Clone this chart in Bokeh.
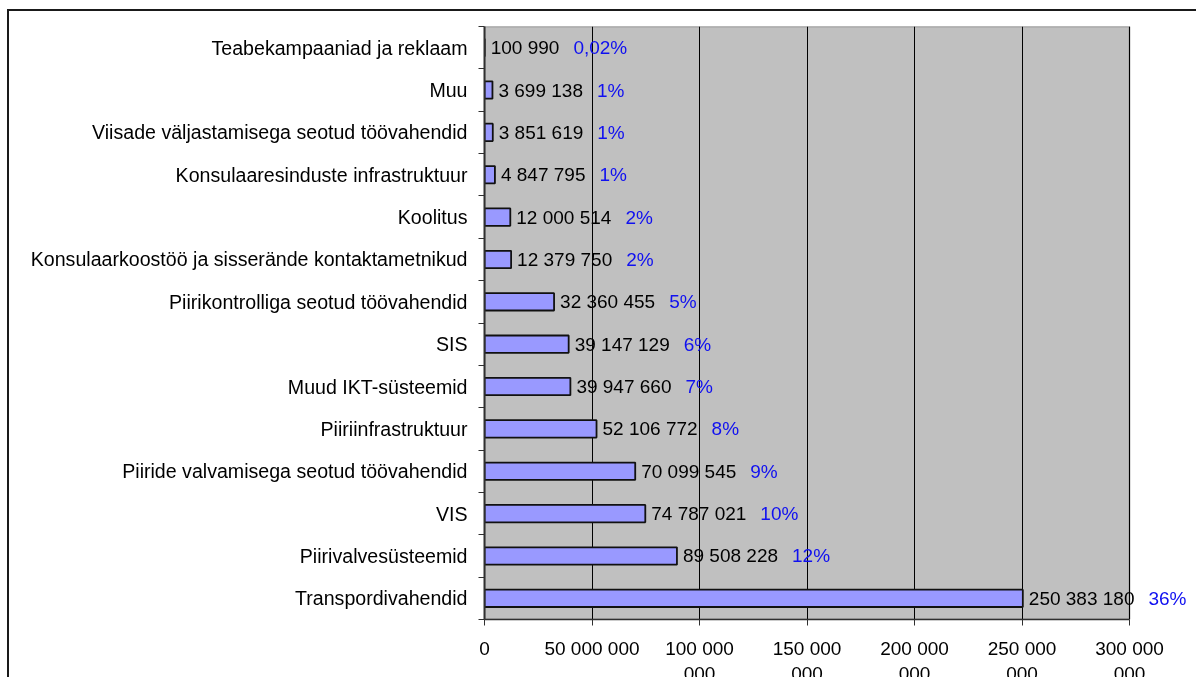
from bokeh.plotting import figure
from bokeh.models import ColumnDataSource, FixedTicker, LabelSet, Range1d
from bokeh.core.properties import value
from bokeh.embed import file_html
from bokeh.resources import INLINE

# ---- data (top to bottom as shown) ----
categories = [
    "Teabekampaaniad ja reklaam",
    "Muu",
    "Viisade väljastamisega seotud töövahendid",
    "Konsulaaresinduste infrastruktuur",
    "Koolitus",
    "Konsulaarkoostöö ja sisserände kontaktametnikud",
    "Piirikontrolliga seotud töövahendid",
    "SIS",
    "Muud IKT-süsteemid",
    "Piiriinfrastruktuur",
    "Piiride valvamisega seotud töövahendid",
    "VIS",
    "Piirivalvesüsteemid",
    "Transpordivahendid",
]
values = [100990, 3699138, 3851619, 4847795, 12000514, 12379750, 32360455,
          39147129, 39947660, 52106772, 70099545, 74787021, 89508228, 250383180]
percents = ["0,02%", "1%", "1%", "1%", "2%", "2%", "5%", "6%", "7%", "8%",
            "9%", "10%", "12%", "36%"]
x_ticks = [0, 50000000, 100000000, 150000000, 200000000, 250000000, 300000000]
x_tick_labels = ["0", "50 000 000", "100 000\n000", "150 000\n000",
                 "200 000\n000", "250 000\n000", "300 000\n000"]

FONT = "Liberation Sans"
FS = 19
FS_CAT = 19.6

n = len(categories)
ys = [n - 1 - i + 0.5 for i in range(n)]
vlabels = ["{:,}".format(v).replace(",", " ") for v in values]


def text_w(s):
    w = 0.0
    for ch in s:
        if ch in " ,":
            w += 0.278
        elif ch == "%":
            w += 0.889
        else:
            w += 0.556
    return w * FS


VOFF = 6
poff = [VOFF + text_w(s) + 14 for s in vlabels]

src = ColumnDataSource(dict(y=ys, value=values, vlabel=vlabels, pct=percents, poff=poff))

XMAX = x_ticks[-1]
W = 1210
BL = 475
AREA_W = 645.0          # pixel width of the grey plot area
FRAME_W = W - BL        # frame extends past the grey area so right-hand labels are not clipped
p = figure(width=W, height=690,
           x_range=Range1d(0, XMAX * FRAME_W / AREA_W), y_range=Range1d(0, n),
           output_backend="svg", toolbar_location=None,
           min_border_left=BL, min_border_right=0,
           min_border_top=15, min_border_bottom=82)

p.styles = {"position": "fixed", "top": "9px", "left": "7px",
            "border-top": "2px solid #1a1a1a", "border-left": "2px solid #1a1a1a"}

p.background_fill_color = "white"
p.border_fill_color = "white"
p.outline_line_color = None

# grey plot area
p.quad(left=[0], right=[XMAX], bottom=[0], top=[n], level="image",
       fill_color="#C0C0C0", line_color="#808080", line_width=1.5)

p.hbar(y="y", right="value", left=0, height=0.41, source=src,
       fill_color="#9999FF", line_color="#111111", line_width=1.8)

# grid
p.ygrid.visible = False
p.xgrid.ticker = FixedTicker(ticks=x_ticks)
p.xgrid.grid_line_color = "black"
p.xgrid.grid_line_width = 1

# x axis
xa = p.xaxis[0]
xa.ticker = FixedTicker(ticks=x_ticks)
xa.bounds = (0, XMAX)
xa.major_label_overrides = {t: l for t, l in zip(x_ticks, x_tick_labels)}
xa.major_tick_out = 6
xa.major_tick_in = 0
xa.minor_tick_out = 0
xa.minor_tick_in = 0
xa.axis_line_color = "#303030"
xa.axis_line_width = 1.5
xa.major_tick_line_color = "#303030"
xa.major_label_text_font = FONT
xa.major_label_text_font_size = f"{FS}px"
xa.major_label_text_color = "black"
xa.major_label_text_line_height = 1.2
xa.major_label_standoff = 12

# y axis
ya = p.yaxis[0]
ya.ticker = FixedTicker(ticks=ys, minor_ticks=list(range(n + 1)))
ya.major_label_overrides = {y: c for y, c in zip(ys, categories)}
ya.major_tick_out = 0
ya.major_tick_in = 0
ya.minor_tick_out = 6
ya.minor_tick_in = 0
ya.minor_tick_line_color = "#303030"
ya.axis_line_color = "#303030"
ya.axis_line_width = 2
ya.major_label_text_font = FONT
ya.major_label_text_font_size = f"{FS_CAT}px"
ya.major_label_text_color = "black"
ya.major_label_standoff = 11

vl = LabelSet(x="value", y="y", text="vlabel", source=src, x_offset=VOFF,
              text_baseline="middle", text_align="left",
              text_font=value(FONT), text_font_size=f"{FS}px", text_color="black")
pl = LabelSet(x="value", y="y", text="pct", source=src, x_offset="poff",
              text_baseline="middle", text_align="left",
              text_font=value(FONT), text_font_size=f"{FS}px", text_color="#1010F0")
p.add_layout(vl)
p.add_layout(pl)

open("out.html", "w").write(file_html(p, INLINE))
